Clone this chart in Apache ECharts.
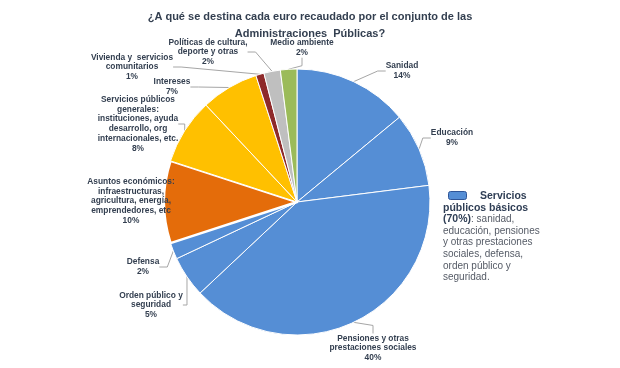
<!DOCTYPE html>
<html><head><meta charset="utf-8">
<script src="https://cdn.jsdelivr.net/npm/echarts@6/dist/echarts.min.js"></script>
<style>html,body{margin:0;padding:0;background:#fff}#c{width:620px;height:368px}</style>
</head><body><div id="c"></div>
<script>
const titleLines = ['¿A qué se destina cada euro recaudado por el conjunto de las', 'Administraciones  Públicas?'];
const categories = [
  'Sanidad',
  'Educación',
  'Pensiones y otras\nprestaciones sociales',
  'Orden público y\nseguridad',
  'Defensa',
  'Asuntos económicos:\ninfraestructuras,\nagricultura, energía,\nemprendedores, etc',
  'Servicios públicos\ngenerales:\ninstituciones, ayuda\ndesarrollo, org\ninternacionales, etc.',
  'Intereses',
  'Vivienda y  servicios\ncomunitarios',
  'Políticas de cultura,\ndeporte y otras',
  'Medio ambiente'
];
const values = [14, 9, 40, 5, 2, 10, 8, 7, 1, 2, 2];
const legendTitle = 'Servicios';
const legendLines = [['públicos básicos'], ['(70%)', ': sanidad,'], ['educación, pensiones'], ['y otras prestaciones'], ['sociales, defensa,'], ['orden público y'], ['seguridad.']];

const sliceColors = ['#558ED5','#558ED5','#558ED5','#558ED5','#558ED5','#E46C0A','#FFC000','#FFC000','#8E2A2A','#BFBFBF','#9BBB59'];
const sliceBorders = [1,1,1,1,1,2.5,1,1,1,1,1];
const labelPos = [[402,71],[452,138],[373,348],[151,305],[143,267],[131,201],[138,124],[172,87],[132,67],[208,52],[302,48]];

const chart = echarts.init(document.getElementById('c'), null, {renderer:'canvas'});
const textColor = '#333F50';

let richText = legendLines.map((parts, i) => {
  if (i === 0) return '{b|' + parts[0] + '}';
  if (parts.length === 2) return '{b|' + parts[0] + '}{n|' + parts[1] + '}';
  return '{n|' + parts[0] + '}';
}).join('\n');

chart.setOption({
  animation: false,
  backgroundColor: '#fff',
  title: {
    text: titleLines.join('\n'),
    left: 'center',
    top: 8,
    padding: 0,
    textStyle: {fontFamily: 'Liberation Sans, Arial', fontSize: 11, fontWeight: 'bold', color: textColor, lineHeight: 17}
  },
  series: [{
    type: 'pie',
    center: [297, 202],
    radius: [0, 133],
    startAngle: 90,
    clockwise: true,
    data: values.map((v, i) => ({name: categories[i], value: v, itemStyle: {color: sliceColors[i], borderWidth: sliceBorders[i]}})),
    itemStyle: {borderColor: '#fff', borderWidth: 1},
    label: {
      show: true,
      position: 'outside',
      formatter: '{b}\n{c}%',
      fontFamily: 'Liberation Sans, Arial',
      fontSize: 8.4,
      fontWeight: 'bold',
      color: textColor,
      lineHeight: 9.7,
      align: 'center'
    },
    labelLine: {show: true, length: 8, length2: 8, smooth: false, lineStyle: {color: '#A6A6A6', width: 1}},
    labelLayout: function (params) {
      const p = labelPos[params.dataIndex];
      return {x: p[0], y: p[1], align: 'center', verticalAlign: 'middle'};
    },
    emphasis: {disabled: true}
  }],
  graphic: [
    {type: 'rect', shape: {x: 448.5, y: 191.5, width: 18, height: 8, r: 2}, style: {fill: '#558ED5', stroke: '#2F5597', lineWidth: 1}},
    {type: 'text', x: 480, y: 196, style: {text: legendTitle, fontFamily: 'Liberation Sans, Arial', fontSize: 10.5, fontWeight: 'bold', fill: '#2F3E55', verticalAlign: 'middle'}},
    {type: 'text', x: 443, y: 202, style: {
      text: richText,
      fontFamily: 'Liberation Sans, Arial',
      rich: {
        b: {fontFamily: 'Liberation Sans, Arial', fontSize: 10.5, fontWeight: 'bold', fill: '#2F3E55', color: '#2F3E55', lineHeight: 11.6},
        n: {fontFamily: 'Liberation Sans, Arial', fontSize: 10, fill: '#555B66', color: '#555B66', lineHeight: 11.6}
      }
    }}
  ]
});
</script></body></html>
